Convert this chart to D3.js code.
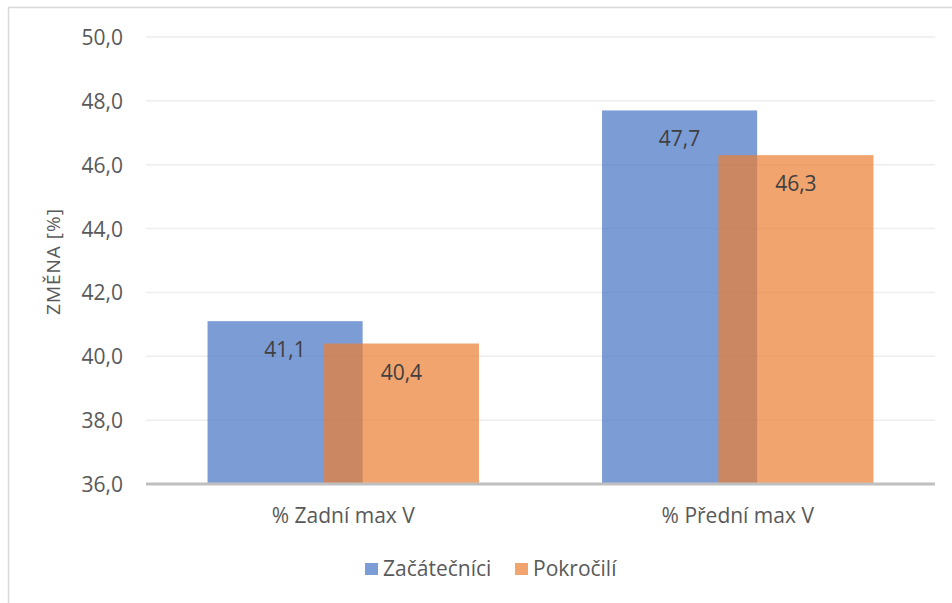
<!DOCTYPE html>
<html>
<head>
<meta charset="utf-8">
<script src="https://cdn.jsdelivr.net/npm/d3@7"></script>
<style>
  body { margin: 0; background: #fff; }
  text { font-family: "Open Sans", sans-serif; }
</style>
</head>
<body>
<script>
'use strict';

// chart data
const categories = ["% Zadní max V", "% Přední max V"];
const seriesNames = ["Začátečníci", "Pokročilí"];
const beginners = [41.1, 47.7]; // Začátečníci
const advanced = [40.4, 46.3];  // Pokročilí
const yTicks = [36, 38, 40, 42, 44, 46, 48, 50];
const colors = ["#4472C4", "#ED7D31"];

(function() {
  const W = 952, H = 603;
  const svg = d3.select('body').append('svg')
    .attr('width', W)
    .attr('height', H);

  // outer chart border
  svg.append('rect')
    .attr('x', 8.5).attr('y', 7.5)
    .attr('width', W + 10).attr('height', H + 10)
    .attr('fill', 'none')
    .attr('stroke', '#D9D9D9')
    .attr('stroke-width', 1.5);

  const plotLeft = 146, plotRight = 935, plotTop = 37, plotBottom = 484;

  const y = d3.scaleLinear().domain([36, 50]).range([plotBottom, plotTop]);

  const pad = 0.312;
  const x = d3.scaleBand()
    .domain(categories)
    .range([plotLeft, plotRight])
    .paddingInner(pad)
    .paddingOuter(pad / 2);

  // gridlines
  svg.append('g')
    .selectAll('line')
    .data(yTicks.slice(1))
    .enter()
    .append('line')
    .attr('x1', plotLeft).attr('x2', plotRight)
    .attr('y1', d => y(d)).attr('y2', d => y(d))
    .attr('stroke', '#EDEDED')
    .attr('stroke-width', 1.5);

  // y tick labels
  const yAxis = d3.axisLeft(y)
    .tickValues(yTicks)
    .tickSize(0)
    .tickPadding(0)
    .tickFormat(d => d.toFixed(1).replace('.', ','));
  const gy = svg.append('g')
    .attr('transform', 'translate(123,0)')
    .call(yAxis);
  gy.select('.domain').remove();
  gy.selectAll('text')
    .attr('font-family', '"Open Sans", sans-serif')
    .attr('font-size', 21)
    .attr('fill', '#595959')
    .attr('dy', '0.36em');

  // bars (orange drawn over blue, both semi-transparent)
  const bw = x.bandwidth() / 1.75;
  const step = bw * 0.75;
  const series = [beginners, advanced];

  series.forEach((vals, s) => {
    svg.append('g').selectAll('rect')
      .data(vals)
      .enter()
      .append('rect')
      .attr('x', (d, i) => x(categories[i]) + s * step)
      .attr('y', d => y(d))
      .attr('width', bw)
      .attr('height', d => y(36) - y(d))
      .attr('fill', colors[s])
      .attr('fill-opacity', 0.7);
  });

  // data labels
  series.forEach((vals, s) => {
    svg.append('g').selectAll('text')
      .data(vals)
      .enter()
      .append('text')
      .attr('x', (d, i) => x(categories[i]) + s * step + bw / 2)
      .attr('y', d => y(d) + 36)
      .attr('text-anchor', 'middle')
      .attr('font-size', 21)
      .attr('fill', '#404040')
      .text(d => d.toFixed(1).replace('.', ','));
  });

  // x axis line
  svg.append('line')
    .attr('x1', plotLeft).attr('x2', plotRight)
    .attr('y1', plotBottom).attr('y2', plotBottom)
    .attr('stroke', '#BFBFBF')
    .attr('stroke-width', 3);

  // x category labels
  const xAxis = d3.axisBottom(x).tickSize(0).tickPadding(0);
  const gx = svg.append('g')
    .attr('transform', 'translate(0,' + plotBottom + ')')
    .call(xAxis);
  gx.select('.domain').remove();
  gx.selectAll('text')
    .attr('font-family', '"Open Sans", sans-serif')
    .attr('font-size', 21)
    .attr('fill', '#595959')
    .attr('dy', 0)
    .attr('y', 39);

  // y axis title
  svg.append('text')
    .attr('transform', 'translate(60,' + ((plotTop + plotBottom) / 2 + 1) + ') rotate(-90)')
    .attr('text-anchor', 'middle')
    .attr('font-size', 19)
    .attr('letter-spacing', 1)
    .attr('fill', '#595959')
    .text('ZMĚNA [%]');

  // legend
  const legend = svg.append('g');
  const legendX = [365, 515];
  seriesNames.forEach((name, i) => {
    legend.append('rect')
      .attr('x', legendX[i]).attr('y', 563)
      .attr('width', 13).attr('height', 12)
      .attr('fill', colors[i])
      .attr('fill-opacity', 0.7);
    legend.append('text')
      .attr('x', legendX[i] + 18)
      .attr('y', 576)
      .attr('font-size', 21)
      .attr('fill', '#595959')
      .text(name);
  });
})();
</script>
</body>
</html>
